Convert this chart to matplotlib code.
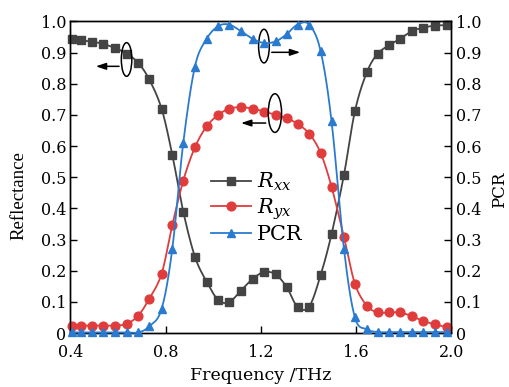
import matplotlib
matplotlib.use("Agg")
import matplotlib.pyplot as plt
from matplotlib.patches import Ellipse
from matplotlib.lines import Line2D
import numpy as np

plt.rcParams['font.family'] = ['DejaVu Serif']
plt.rcParams['mathtext.fontset'] = 'dejavuserif'

freq = [0.405, 0.444, 0.492, 0.538, 0.587, 0.636, 0.685, 0.731, 0.783, 0.828,
        0.874, 0.923, 0.972, 1.021, 1.067, 1.116, 1.166, 1.214, 1.262, 1.308,
        1.354, 1.403, 1.451, 1.497, 1.549, 1.595, 1.645, 1.691, 1.740, 1.785,
        1.834, 1.882, 1.932, 1.981]

r_xx = [0.944, 0.940, 0.935, 0.928, 0.915, 0.897, 0.867, 0.814, 0.720, 0.572,
        0.390, 0.245, 0.165, 0.106, 0.099, 0.136, 0.174, 0.196, 0.188, 0.148,
        0.084, 0.085, 0.186, 0.318, 0.508, 0.712, 0.837, 0.897, 0.924, 0.945,
        0.969, 0.980, 0.987, 0.988]

r_yx = [0.024, 0.024, 0.024, 0.024, 0.024, 0.029, 0.056, 0.110, 0.190, 0.346,
        0.489, 0.596, 0.663, 0.700, 0.720, 0.725, 0.720, 0.711, 0.700, 0.690,
        0.671, 0.640, 0.578, 0.469, 0.308, 0.158, 0.088, 0.066, 0.066, 0.066,
        0.054, 0.038, 0.028, 0.018]

pcr = [0.002, 0.002, 0.002, 0.002, 0.002, 0.002, 0.002, 0.021, 0.077, 0.270,
       0.610, 0.855, 0.944, 0.985, 0.990, 0.969, 0.944, 0.931, 0.936, 0.959,
       0.990, 0.990, 0.905, 0.679, 0.270, 0.050, 0.012, 0.003, 0.003, 0.003,
       0.003, 0.003, 0.003, 0.003]

xticks = [0.4, 0.8, 1.2, 1.6, 2.0]
xticklabels = ['0.4', '0.8', '1.2', '1.6', '2.0']
yticks = [0, 0.1, 0.2, 0.3, 0.4, 0.5, 0.6, 0.7, 0.8, 0.9, 1.0]
yticklabels = ['0', '0.1', '0.2', '0.3', '0.4', '0.5', '0.6', '0.7', '0.8', '0.9', '1.0']

c_gray = '#444444'
c_red = '#e03c3c'
c_blue = '#2a7bd0'


def smooth_path(x, y, n=12):
    """Catmull-Rom rendering path through the given points (drawing only)."""
    x = np.asarray(x, float)
    y = np.asarray(y, float)
    px = np.concatenate([[2 * x[0] - x[1]], x, [2 * x[-1] - x[-2]]])
    py = np.concatenate([[2 * y[0] - y[1]], y, [2 * y[-1] - y[-2]]])
    xs, ys = [], []
    t = np.linspace(0, 1, n, endpoint=False)
    for i in range(1, len(px) - 2):
        for arr, out in ((px, xs), (py, ys)):
            p0, p1, p2, p3 = arr[i - 1], arr[i], arr[i + 1], arr[i + 2]
            out.extend(0.5 * ((2 * p1) + (-p0 + p2) * t + (2 * p0 - 5 * p1 + 4 * p2 - p3) * t ** 2
                              + (-p0 + 3 * p1 - 3 * p2 + p3) * t ** 3))
    xs.append(x[-1])
    ys.append(y[-1])
    return np.array(xs), np.clip(np.array(ys), 0, 1)


fig = plt.figure(figsize=(5.1, 3.87), dpi=100)
ax = fig.add_axes([0.138, 0.1395, 0.747, 0.805])
ax2 = ax.twinx()

for a, y, m, c, ms in ((ax, r_xx, 's', c_gray, 5.6), (ax, r_yx, 'o', c_red, 6.3),
                       (ax2, pcr, '^', c_blue, 6.3)):
    sx, sy = smooth_path(freq, y)
    a.plot(sx, sy, '-', color=c, lw=1.3, clip_on=False, zorder=3)
    a.plot(freq, y, m, color=c, ms=ms, ls='none', clip_on=False, zorder=3)

h1 = Line2D([], [], color=c_gray, marker='s', ms=5.6, lw=1.3)
h2 = Line2D([], [], color=c_red, marker='o', ms=6.3, lw=1.3)
h3 = Line2D([], [], color=c_blue, marker='^', ms=6.3, lw=1.3)

for a in (ax, ax2):
    a.set_ylim(0, 1.0)
    a.set_yticks(yticks)
    a.set_yticklabels(yticklabels)
    a.tick_params(direction='in', length=5, width=1, labelsize=11.5)
ax.set_xlim(0.4, 2.0)
ax.set_xticks(xticks)
ax.set_xticklabels(xticklabels)
ax.tick_params(axis='x', pad=8)
ax.tick_params(axis='y', pad=3)
ax2.tick_params(axis='y', pad=3)

ax.set_xlabel('Frequency /THz', fontsize=12.5, labelpad=4)
ax.set_ylabel('Reflectance', fontsize=13.5, family=['Liberation Serif'])
ax.yaxis.set_label_coords(-0.112, 0.44)
ax2.set_ylabel('PCR', fontsize=12)
ax2.yaxis.set_label_coords(1.104, 0.46)

for a in (ax, ax2):
    for s in a.spines.values():
        s.set_linewidth(1.0)

# annotations: ellipses and arrows
ax.add_patch(Ellipse((0.636, 0.878), 0.044, 0.108, fill=False, ec='k', lw=1.1, zorder=4))
ax.annotate('', xy=(0.495, 0.856), xytext=(0.616, 0.856),
            arrowprops=dict(arrowstyle='-|>,head_length=0.6,head_width=0.2', color='k',
                            lw=1.1, mutation_scale=10), zorder=4)

ax.add_patch(Ellipse((1.213, 0.921), 0.045, 0.108, fill=False, ec='k', lw=1.1, zorder=4))
ax.annotate('', xy=(1.377, 0.901), xytext=(1.234, 0.901),
            arrowprops=dict(arrowstyle='-|>,head_length=0.6,head_width=0.2', color='k',
                            lw=1.1, mutation_scale=10), zorder=4)

ax.add_patch(Ellipse((1.259, 0.706), 0.056, 0.124, fill=False, ec='k', lw=1.1, zorder=4))
ax.annotate('', xy=(1.105, 0.674), xytext=(1.232, 0.674),
            arrowprops=dict(arrowstyle='-|>,head_length=0.6,head_width=0.2', color='k',
                            lw=1.1, mutation_scale=10), zorder=4)

leg = ax2.legend(handles=[h1, h2, h3], labels=[r'$R_{xx}$', r'$R_{yx}$', 'PCR'],
                 loc='upper left', bbox_to_anchor=(0.37, 0.52),
                 frameon=False, fontsize=15, handlelength=1.9, handletextpad=0.3,
                 labelspacing=0.15, borderpad=0, borderaxespad=0)

fig.savefig('out.png', dpi=100)
